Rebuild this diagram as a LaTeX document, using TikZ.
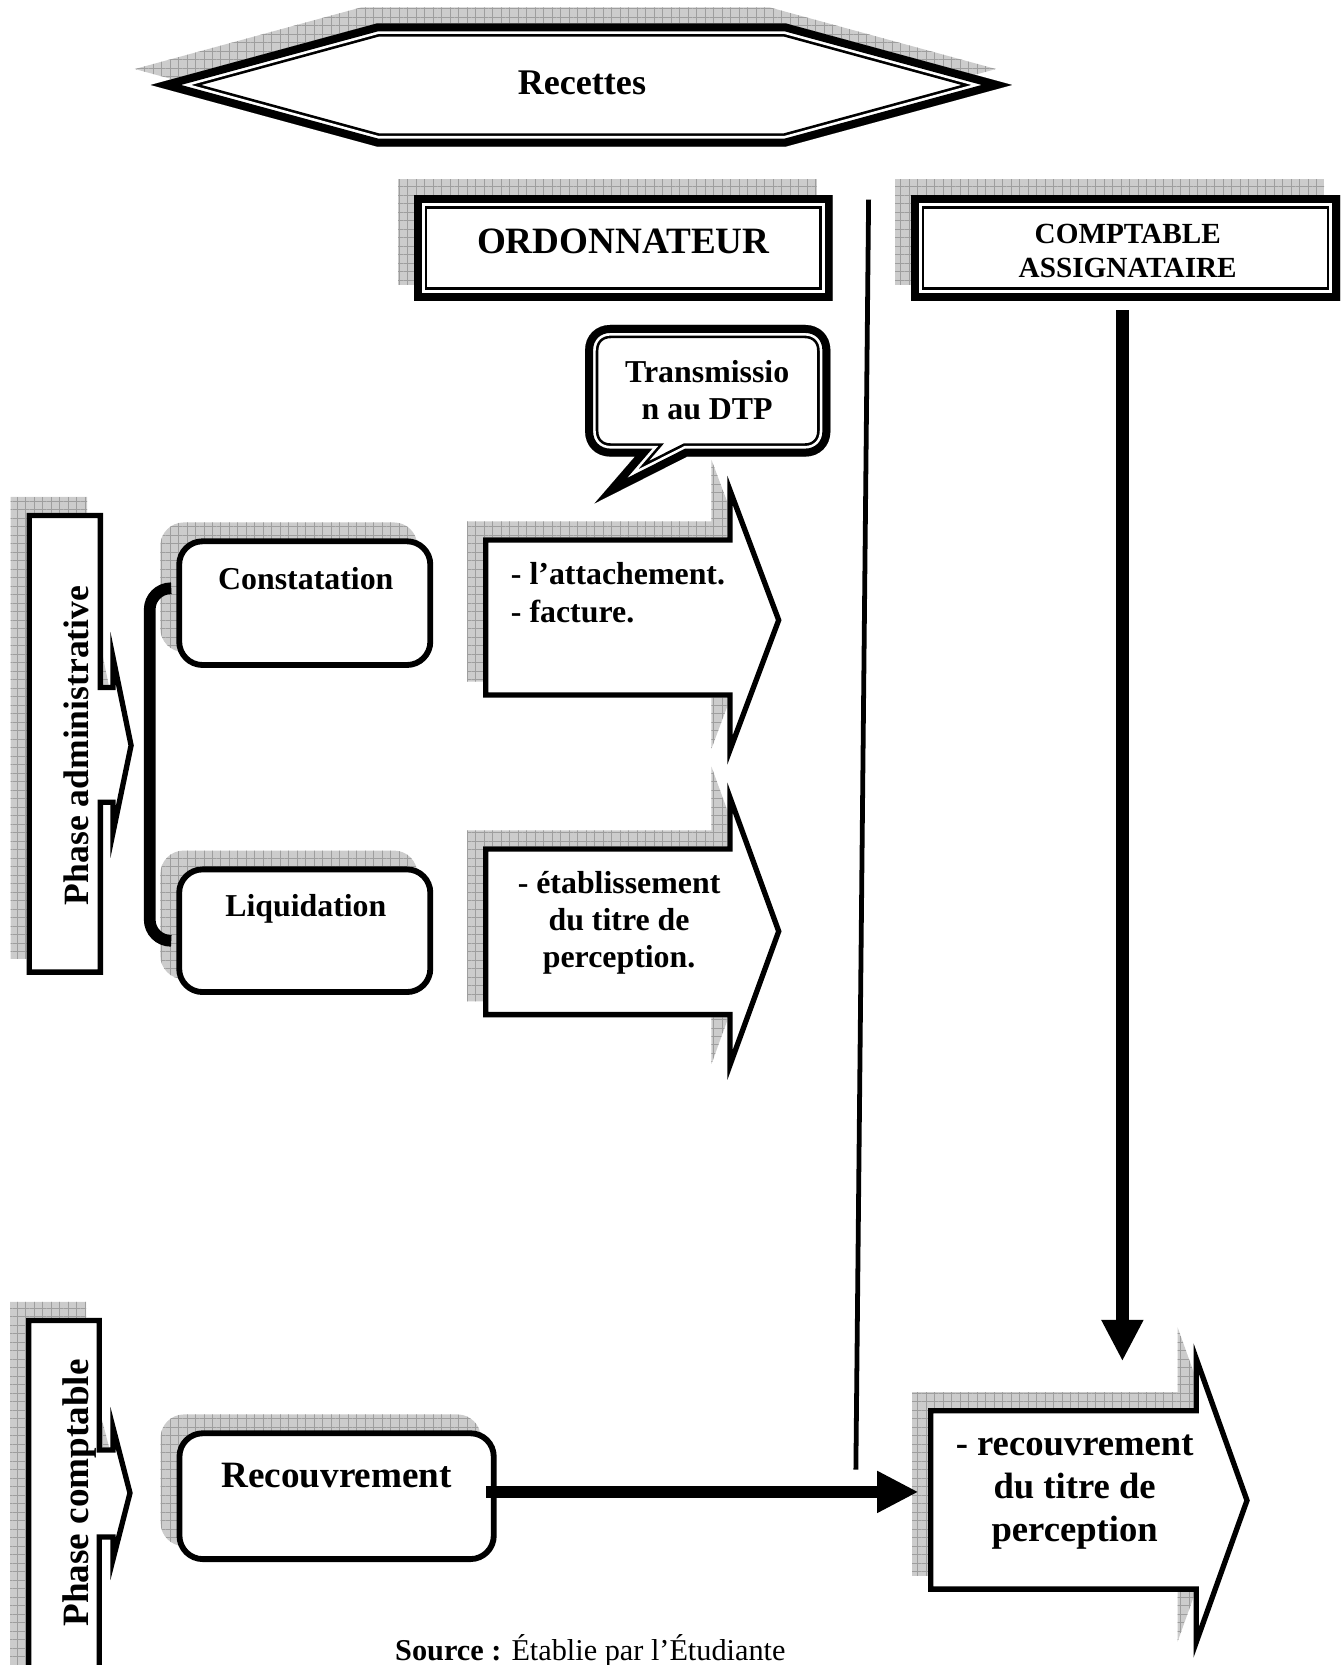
\documentclass[tikz,border=0pt]{standalone}
\usepackage{fontspec}
\setmainfont{Liberation Serif}
\usetikzlibrary{arrows.meta,patterns.meta}

\tikzset{
  grayshade/.style={preaction={fill=black!20}, pattern={Hatch[angle=0,distance=8pt,line width=0.7pt]}, pattern color=black!38},
  roundbox/.style={draw, line width=5.5pt, fill=white, rounded corners=22pt},
  roundshade/.style={grayshade, rounded corners=22pt},
  txt/.style={font=\bfseries, anchor=base, inner sep=0pt},
  bigarrow/.style={line width=12pt, -{Triangle[length=38pt,width=40pt,line width=0pt]}},
}
\newcommand\fsz[2]{\fontsize{#1}{#2}\selectfont}
\newcommand\shadowed[1]{\path[grayshade, shift={(-15,-15)}] #1; \fill[white] #1;}
\newcommand\singleframe[1]{\begin{scope}\clip #1; \draw[line width=10pt] #1;\end{scope}}
\newcommand\doubleframe[1]{\begin{scope}\clip #1; \draw[line width=25pt] #1;
  \draw[white, line width=20pt] #1; \draw[line width=15pt] #1;\end{scope}}
\newcommand\hdrshape[1]{\shadowed{#1}\doubleframe{#1}}
\newcommand\arrowcard[1]{\shadowed{#1}\singleframe{#1}}

\begin{document}
\begin{tikzpicture}[x=1pt, y=-1pt]
    \useasboundingbox (0,0) rectangle (1265,1568);

    \hdrshape{(142,80) -- (355,22) -- (740,22) -- (953,80) -- (740,138) -- (355,138) -- cycle}
    \node[txt, font=\bfseries\fsz{34}{40}] (recettes) at (548,89) {Recettes};

    \hdrshape{(390,184) rectangle (784,283)}
    \node[txt, font=\bfseries\fsz{35}{40}] (ordo) at (587,239) {ORDONNATEUR};
    \hdrshape{(858,184) rectangle (1262,283)}
    \node[txt, align=center, font=\bfseries\fsz{27.5}{32}] (compt) at (1062,261) {COMPTABLE\\ASSIGNATAIRE};

    \coordinate (sepA) at (818,188);
    \coordinate (sepB) at (806,1384);
    \draw[line width=4.5pt] (sepA) -- (sepB);

    \coordinate (comptfoot) at (1057,292);
    \coordinate (comptip) at (1057,1281);
    \draw[bigarrow] (comptfoot) -- (comptip);

    \arrowcard{(25,483) -- (97,483) -- (97,645) -- (104,645) -- (104,595) -- (126,702) -- (104,808) -- (104,758) -- (97,758) -- (97,918) -- (25,918) -- cycle}
    \node[txt, rotate=90, font=\bfseries\fsz{33.5}{40}] (admin) at (83,702) {Phase administrative};
    \arrowcard{(24.5,1241) -- (96,1241) -- (96,1363) -- (104,1363) -- (104,1325) -- (125,1406) -- (104,1488) -- (104,1450) -- (96,1450) -- (96,1590) -- (24.5,1590) -- cycle}
    \node[txt, rotate=90, font=\bfseries\fsz{35}{40}] (compta) at (83,1406) {Phase comptable};

    \node[roundshade, minimum width=242pt, minimum height=122pt] (constat-sh) at (272,553) {};
    \node[roundshade, minimum width=242pt, minimum height=121pt] (liquid-sh) at (272,861.5) {};
    \node[roundshade, minimum width=301.5pt, minimum height=124pt] (recouv-sh) at (302,1394) {};
    \draw[line width=11pt, rounded corners=20pt] (160,554) -- (141,554) -- (141,886) -- (160,886);
    \node[roundbox, minimum width=236.5pt, minimum height=116.5pt] (constat) at (287,568) {};
    \node[roundbox, minimum width=236.5pt, minimum height=115.5pt] (liquid) at (287,876.5) {};
    \node[roundbox, minimum width=296pt, minimum height=118.5pt] (recouv) at (317,1409) {};
    \node[txt, font=\bfseries\fsz{30}{36}] (constat-t) at (288,555) {Constatation};
    \node[txt, font=\bfseries\fsz{30}{36}] (liquid-t) at (288,863) {Liquidation};
    \node[txt, font=\bfseries\fsz{35}{40}] (recouv-t) at (317,1401) {Recouvrement};

    \arrowcard{(455,506) -- (685,506) -- (685,448) -- (736,584) -- (685,720) -- (685,657) -- (455,657) -- cycle}
    \node[txt, anchor=base west, align=left, font=\bfseries\fsz{30}{36}] (pieces) at (481,586) {- l'attachement.\\- facture.};
    \arrowcard{(455,797) -- (685,797) -- (685,737) -- (736,877) -- (685,1017) -- (685,958) -- (455,958) -- cycle}
    \node[txt, align=center, font=\bfseries\fsz{30}{35}] (titre) at (583,911) {- établissement\\du titre de\\perception.};

    \fill[white] (598,430) -- (575,430) .. controls (561,430) and (551,420) .. (551,406) -- (551,330) .. controls (551,316) and (561,306) .. (575,306) -- (758,306) .. controls (772,306) and (782,316) .. (782,330) -- (782,406) .. controls (782,420) and (772,430) .. (758,430) -- (647,430) -- (560,474) -- cycle;
    \doubleframe{(598,430) -- (575,430) .. controls (561,430) and (551,420) .. (551,406) -- (551,330) .. controls (551,316) and (561,306) .. (575,306) -- (758,306) .. controls (772,306) and (782,316) .. (782,330) -- (782,406) .. controls (782,420) and (772,430) .. (758,430) -- (647,430) -- (560,474) -- cycle}
    \node[txt, align=center, font=\bfseries\fsz{30}{35}] (transm) at (666,395) {Transmissio\\n au DTP};

    \arrowcard{(874,1326) -- (1124,1326) -- (1124,1265) -- (1177,1413) -- (1124,1561) -- (1124,1499) -- (874,1499) -- cycle}
    \node[txt, align=center, font=\bfseries\fsz{34.5}{40.5}] (perc) at (1012,1452) {- recouvrement\\du titre de\\perception};
    \coordinate (perctip) at (864,1405);
    \draw[bigarrow] ([xshift=-10pt, yshift=4pt]recouv.east) -- (perctip);

    \node[anchor=base west, inner sep=0pt, font=\fsz{28.5}{34}] (source) at (372,1564) {\textbf{Source :} Établie par l'Étudiante};
\end{tikzpicture}
\end{document}
